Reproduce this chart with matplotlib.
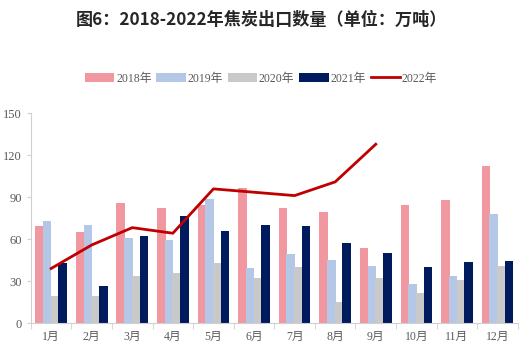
import matplotlib.pyplot as plt
import numpy as np

plt.rcParams['font.family'] = ['Liberation Serif', 'Noto Sans CJK SC']

months = [f'{i}月' for i in range(1, 13)]
y2018 = [69.4, 65, 85.9, 82.3, 84.4, 96.6, 82.3, 79.4, 53.7, 84.4, 88, 112.3]
y2019 = [72.7, 70, 60.8, 59.4, 88.7, 39.4, 49.4, 45.1, 40.8, 27.9, 33.6, 78]
y2020 = [19, 19, 33.6, 35.8, 42.9, 32.2, 40.1, 15, 32.2, 21.5, 30.8, 40.8]
y2021 = [43, 26.5, 62.2, 76.6, 65.8, 70.1, 69.4, 57.2, 50.1, 40.1, 43.6, 44.4]
y2022 = [39, 55.8, 68.2, 64.2, 95.9, 93.5, 91.1, 100.9, 127.8]

colors = ['#F0979F', '#B4C7E7', '#C9C9C9', '#001A5E']
line_color = '#C00000'

fig = plt.figure(figsize=(5.22, 3.57), dpi=100)
ax = fig.add_axes([0.059, 0.095, 0.933, 0.588])

x = np.arange(len(months))
step = 0.19
w = 0.21
series = [y2018, y2019, y2020, y2021]
labels = ['2018年', '2019年', '2020年', '2021年']
for k, (vals, c, lab) in enumerate(zip(series, colors, labels)):
    ax.bar(x + (k - 1.5) * step, vals, width=w, color=c, label=lab, zorder=2)
ax.plot(x[:len(y2022)], y2022, color=line_color, lw=2, label='2022年', zorder=3)

ax.set_xlim(-0.5, 11.5)
ax.set_ylim(0, 150)
ax.set_yticks(range(0, 151, 30))
ax.set_xticks(x)
ax.set_xticklabels(months)
ax.set_xticks(np.arange(-0.5, 12, 1), minor=True)
ax.tick_params(axis='x', which='major', length=0, pad=6, labelsize=8.5, labelcolor='#595959')
ax.tick_params(axis='x', which='minor', length=4, color='#D0D0D0')
ax.tick_params(axis='y', length=3, color='#D0D0D0', labelsize=9, labelcolor='#595959')
for s in ['top', 'right']:
    ax.spines[s].set_visible(False)
ax.spines['left'].set_color('#D0D0D0')
ax.spines['bottom'].set_color('#D0D0D0')

handles, labs = ax.get_legend_handles_labels()
# put the line entry last, like the original
handles = handles[1:] + handles[:1]
labs = labs[1:] + labs[:1]
fig.legend(handles, labs, loc='center', bbox_to_anchor=(0.5, 0.78), ncol=5, frameon=False,
           fontsize=8.5, handlelength=2.5, handleheight=0.9, columnspacing=0.4,
           handletextpad=0.15, labelcolor='#595959')

fig.text(0.5, 0.943, '图6：2018-2022年焦炭出口数量（单位：万吨）', ha='center', va='center',
         fontsize=12.3, fontweight='bold', color='#262626', family=['Noto Sans CJK SC'])

fig.savefig('out.png', dpi=100)
